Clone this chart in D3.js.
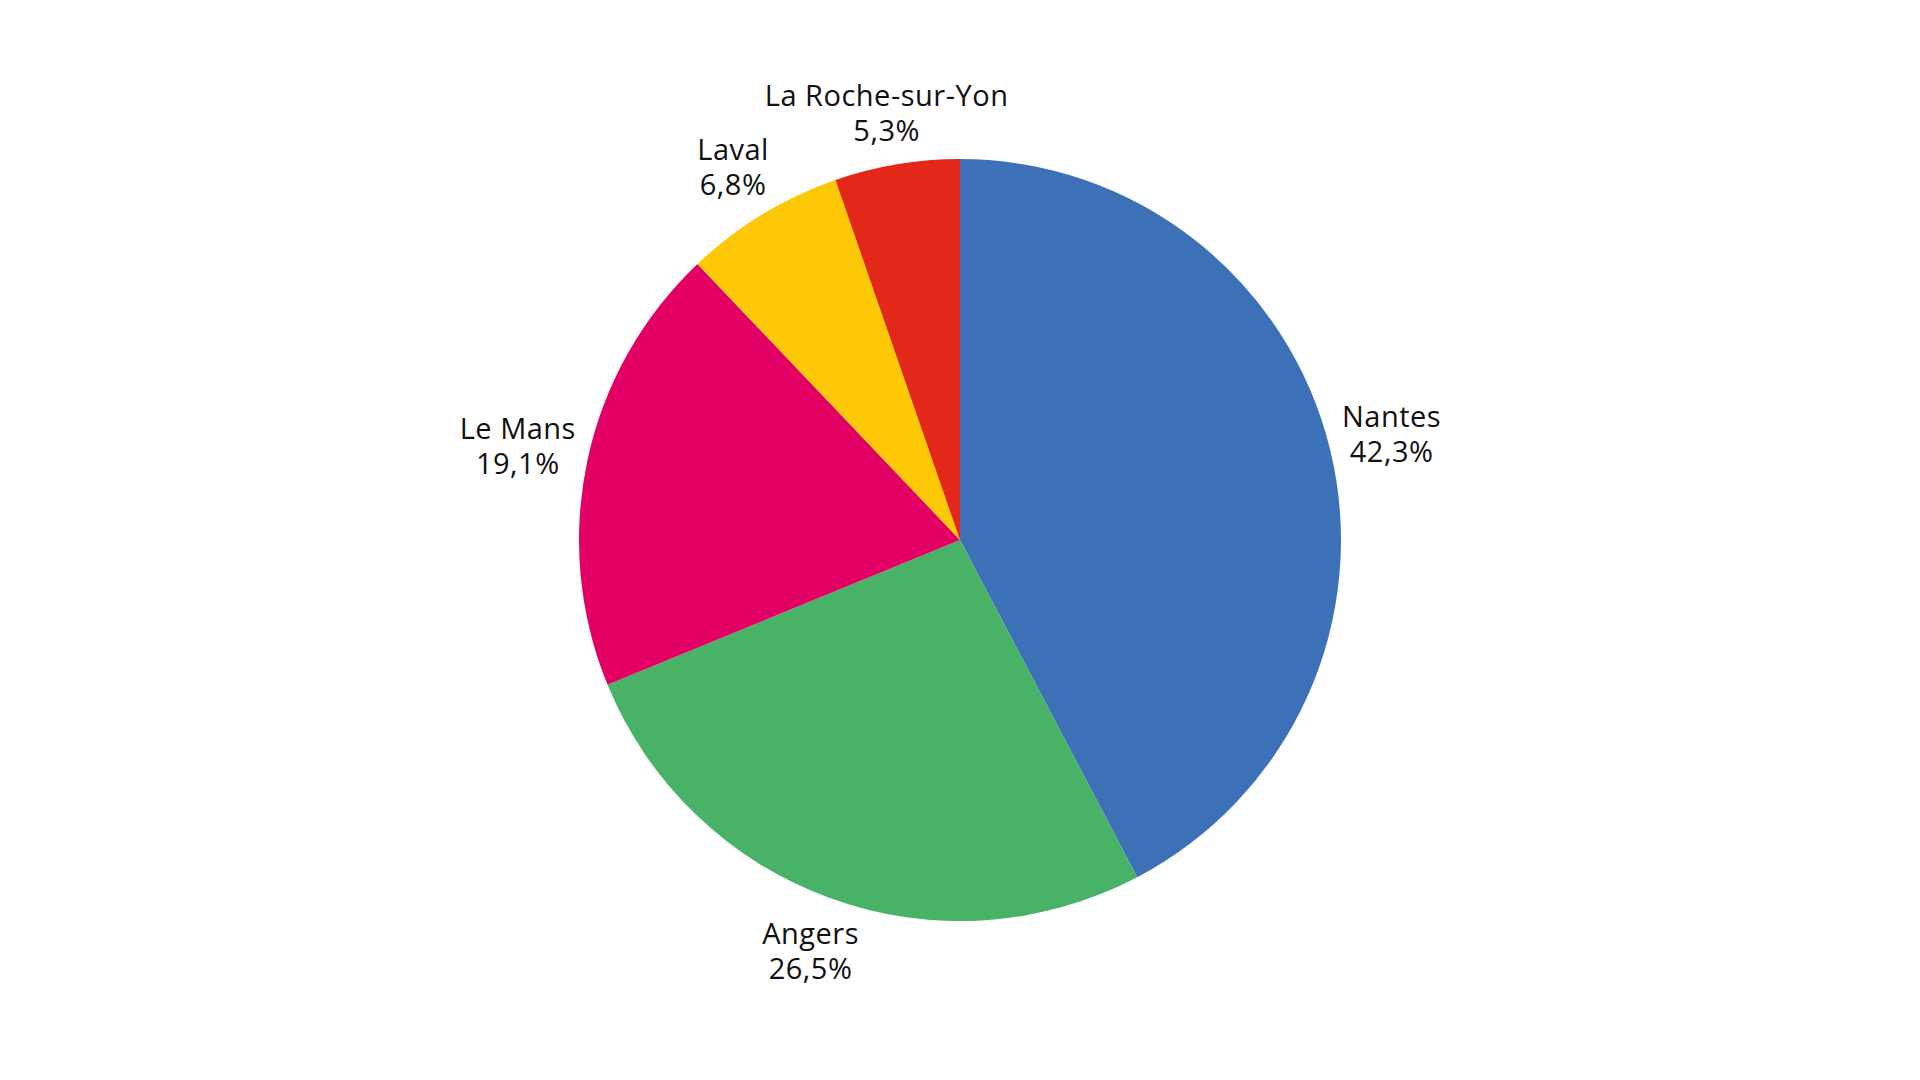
<!DOCTYPE html>
<html>
<head>
<meta charset="utf-8">
<script src="https://cdn.jsdelivr.net/npm/d3@7"></script>
<style>
html, body { margin: 0; padding: 0; background: #ffffff; }
svg { display: block; }
</style>
</head>
<body>
<svg id="chart" width="1920" height="1080"></svg>
<script>
const categories = ["Nantes", "Angers", "Le Mans", "Laval", "La Roche-sur-Yon"];
const values = [42.3, 26.5, 19.1, 6.8, 5.3];
const valueLabels = ["42,3%", "26,5%", "19,1%", "6,8%", "5,3%"];
const colors = ["#3d71b7", "#48b266", "#e20065", "#fdc805", "#e32719"];

const W = 1920, H = 1080;
const cx = 960, cy = 540, R = 381, anchorR = 388;
const lineGap = 35, blockH = 70, capH = 21;
const minBaseline = 106; // keep labels inside the chart area (top bound)

const svg = d3.select("#chart");
const g = svg.append("g").attr("transform", `translate(${cx},${cy})`);

const data = categories.map((c, i) => ({ name: c, value: values[i], label: valueLabels[i], color: colors[i] }));

const pie = d3.pie().sort(null).value(d => d.value);
const arcs = pie(data);
const arc = d3.arc().innerRadius(0).outerRadius(R);

g.selectAll("path.slice")
  .data(arcs)
  .join("path")
  .attr("class", "slice")
  .attr("d", arc)
  .attr("fill", d => d.data.color);

const labels = g.selectAll("text.lbl")
  .data(arcs)
  .join("text")
  .attr("class", "lbl")
  .attr("text-anchor", "middle")
  .attr("font-family", "'Open Sans', sans-serif")
  .attr("font-size", 29)
  .attr("letter-spacing", 0.5)
  .attr("fill", "#111111");

labels.each(function(d) {
  const t = d3.select(this);
  const s1 = t.append("tspan").text(d.data.name);
  const s2 = t.append("tspan").text(d.data.label);
  const w = Math.max(s1.node().getComputedTextLength(), s2.node().getComputedTextLength());
  const mid = (d.startAngle + d.endAngle) / 2;
  const dist = anchorR + Math.abs(Math.sin(mid)) * w / 2 + Math.abs(Math.cos(mid)) * blockH / 2;
  const [x, y] = d3.arc().innerRadius(dist).outerRadius(dist).centroid(d);
  let b1 = y - (lineGap - capH) / 2;
  b1 = Math.max(b1, minBaseline - cy);
  s1.attr("x", x).attr("y", b1);
  s2.attr("x", x).attr("y", b1 + lineGap);
});
</script>
</body>
</html>
